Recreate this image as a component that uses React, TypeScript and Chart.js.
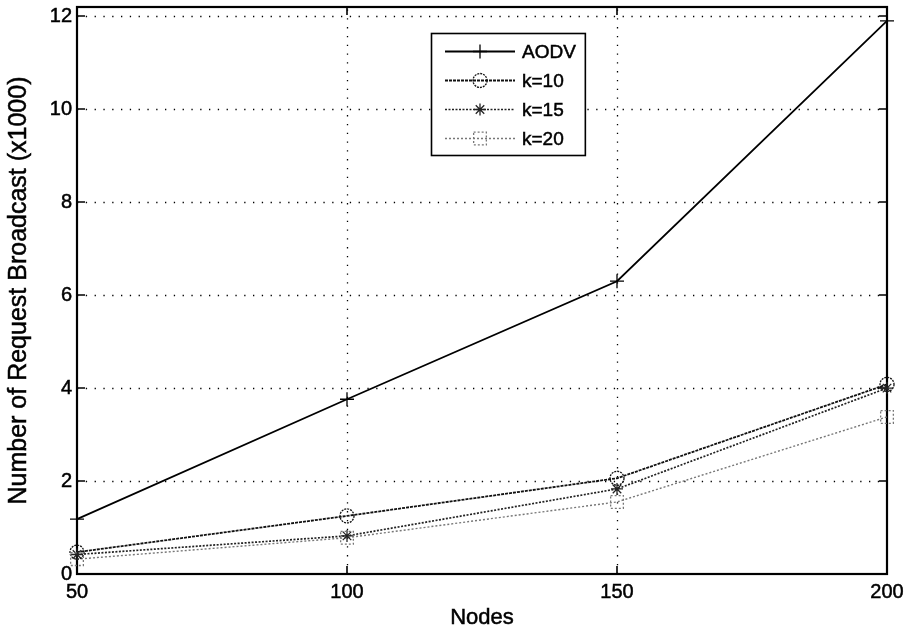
import React, { useEffect, useRef } from "react";
import { Chart, registerables } from "chart.js";

Chart.register(...registerables);

// Network size on the horizontal axis
const nodes = [50, 100, 150, 200];

// Route-request broadcasts, in thousands
const aodv = [1.18, 3.76, 6.3, 11.9];
const k10 = [0.47, 1.25, 2.06, 4.08];
const k15 = [0.42, 0.82, 1.83, 4.0];
const k20 = [0.32, 0.78, 1.55, 3.38];

const seriesLabels = ["AODV", "k=10", "k=15", "k=20"];

const xTicks = [50, 100, 150, 200];
const yTicks = [0, 2, 4, 6, 8, 10, 12];

const xTitle = "Nodes";
const yTitle = "Number of Request Broadcast (x1000)";

const FONT = "'Liberation Sans', Arial, Helvetica, sans-serif";

type Style = "cross" | "circle" | "star" | "rect";

function drawMarker(ctx: CanvasRenderingContext2D, kind: Style, x: number, y: number, r: number) {
  ctx.beginPath();
  if (kind === "cross") {
    ctx.moveTo(x - r, y);
    ctx.lineTo(x + r, y);
    ctx.moveTo(x, y - r);
    ctx.lineTo(x, y + r);
  } else if (kind === "circle") {
    ctx.arc(x, y, r, 0, Math.PI * 2);
  } else if (kind === "star") {
    ctx.moveTo(x - r, y);
    ctx.lineTo(x + r, y);
    ctx.moveTo(x, y - r);
    ctx.lineTo(x, y + r);
    const d = r * Math.SQRT1_2;
    ctx.moveTo(x - d, y - d);
    ctx.lineTo(x + d, y + d);
    ctx.moveTo(x - d, y + d);
    ctx.lineTo(x + d, y - d);
  } else {
    const s = r * Math.SQRT1_2;
    ctx.rect(x - s, y - s, 2 * s, 2 * s);
  }
  ctx.stroke();
}

// Text with a hairline outline so it reads a little heavier than the plain face
function heavyText(ctx: CanvasRenderingContext2D, text: string, x: number, y: number) {
  ctx.fillText(text, x, y);
  ctx.lineWidth = 0.5;
  ctx.strokeStyle = "#000";
  ctx.setLineDash([]);
  ctx.strokeText(text, x, y);
}

const axesDecor = {
  id: "axesDecor",
  beforeDatasetsDraw(chart: any) {
    const { ctx, chartArea: a, scales } = chart;
    const x = scales.x;
    const y = scales.y;
    ctx.save();
    // dotted grid
    ctx.strokeStyle = "#000";
    ctx.lineWidth = 1.3;
    ctx.setLineDash([1.3, 7.5]);
    for (const v of xTicks) {
      const px = Math.round(x.getPixelForValue(v)) + 0.5;
      if (px <= a.left + 2 || px >= a.right - 2) continue;
      ctx.beginPath();
      ctx.moveTo(px, a.bottom);
      ctx.lineTo(px, a.top);
      ctx.stroke();
    }
    for (const v of yTicks) {
      const py = Math.round(y.getPixelForValue(v)) + 0.5;
      if (py <= a.top + 2 || py >= a.bottom - 2) continue;
      ctx.beginPath();
      ctx.moveTo(a.left, py);
      ctx.lineTo(a.right, py);
      ctx.stroke();
    }
    ctx.setLineDash([]);
    // box frame
    ctx.lineWidth = 2.2;
    ctx.strokeRect(a.left, a.top, a.right - a.left, a.bottom - a.top);
    // inward tick marks on all four sides
    const tl = 8;
    ctx.lineWidth = 1.6;
    ctx.beginPath();
    for (const v of xTicks) {
      const px = Math.round(x.getPixelForValue(v));
      ctx.moveTo(px, a.bottom);
      ctx.lineTo(px, a.bottom - tl);
      ctx.moveTo(px, a.top);
      ctx.lineTo(px, a.top + tl);
    }
    for (const v of yTicks) {
      const py = Math.round(y.getPixelForValue(v));
      ctx.moveTo(a.left, py);
      ctx.lineTo(a.left + tl, py);
      ctx.moveTo(a.right, py);
      ctx.lineTo(a.right - tl, py);
    }
    ctx.stroke();
    ctx.restore();
  },
  afterDatasetsDraw(chart: any) {
    const { ctx } = chart;
    const sets = chart.data.datasets;
    ctx.save();
    ctx.font = `19px ${FONT}`;
    const left = 431;
    const top = 33;
    const rowH = 29;
    const firstRow = 51;
    const lineX0 = 445;
    const lineX1 = 515;
    const textX = 522;
    let maxW = 0;
    for (const s of sets) maxW = Math.max(maxW, ctx.measureText(s.label).width);
    const right = textX + maxW + 9;
    const bottom = firstRow + rowH * (sets.length - 1) + 17;
    ctx.fillStyle = "#fff";
    ctx.fillRect(left, top, right - left, bottom - top);
    ctx.strokeStyle = "#000";
    ctx.lineWidth = 1.6;
    ctx.strokeRect(left + 0.5, top + 0.5, right - left, bottom - top);
    sets.forEach((s: any, i: number) => {
      const yy = firstRow + rowH * i + 0.5;
      ctx.strokeStyle = s.borderColor;
      ctx.lineWidth = s.borderWidth;
      ctx.setLineDash(s.borderDash || []);
      ctx.beginPath();
      ctx.moveTo(lineX0, yy);
      ctx.lineTo(lineX1, yy);
      ctx.stroke();
      ctx.setLineDash(s.pointDash || []);
      ctx.strokeStyle = s.pointBorderColor;
      ctx.lineWidth = s.pointBorderWidth;
      drawMarker(ctx, s.markerKind, (lineX0 + lineX1) / 2, yy, s.markerSize);
      ctx.setLineDash([]);
      ctx.fillStyle = "#000";
      ctx.textAlign = "left";
      ctx.textBaseline = "middle";
      heavyText(ctx, s.label, textX, yy + 1);
    });
    ctx.restore();
  },
  afterDraw(chart: any) {
    const { ctx, chartArea: a } = chart;
    ctx.save();
    ctx.fillStyle = "#000";
    ctx.textAlign = "center";
    ctx.textBaseline = "middle";
    ctx.font = `22px ${FONT}`;
    heavyText(ctx, xTitle, (a.left + a.right) / 2, 618);
    ctx.translate(19, (a.top + a.bottom) / 2);
    ctx.rotate(-Math.PI / 2);
    ctx.font = `25px ${FONT}`;
    heavyText(ctx, yTitle, 0, 0);
    ctx.restore();
  },
};

// Markers are stroked by hand so that dotted markers keep their dash pattern
const markerPainter = {
  id: "markerPainter",
  afterDatasetsDraw(chart: any) {
    const { ctx } = chart;
    chart.data.datasets.forEach((s: any, i: number) => {
      const meta = chart.getDatasetMeta(i);
      ctx.save();
      ctx.strokeStyle = s.pointBorderColor;
      ctx.lineWidth = s.pointBorderWidth;
      ctx.setLineDash(s.pointDash || []);
      for (const el of meta.data) drawMarker(ctx, s.markerKind, el.x, el.y, s.markerSize);
      ctx.restore();
    });
  },
};

// Tick labels drawn with the same slightly heavier text as the titles
const tickLabels = {
  id: "tickLabels",
  afterDraw(chart: any) {
    const { ctx, chartArea: a, scales } = chart;
    ctx.save();
    ctx.fillStyle = "#000";
    ctx.font = `20px ${FONT}`;
    ctx.textAlign = "center";
    ctx.textBaseline = "top";
    for (const v of xTicks) heavyText(ctx, String(v), scales.x.getPixelForValue(v), a.bottom + 8);
    ctx.textAlign = "right";
    ctx.textBaseline = "middle";
    for (const v of yTicks) heavyText(ctx, String(v), a.left - 5, scales.y.getPixelForValue(v));
    ctx.restore();
  },
};

function toPoints(vals: number[]) {
  return nodes.map((n, i) => ({ x: n, y: vals[i] }));
}

export default function App() {
  const ref = useRef<HTMLCanvasElement | null>(null);

  useEffect(() => {
    if (!ref.current) return;
    const mk = (
      label: string,
      vals: number[],
      color: string,
      width: number,
      dash: number[],
      kind: Style,
      size: number,
      pointDash: number[]
    ) => ({
      label,
      data: toPoints(vals),
      borderColor: color,
      borderWidth: width,
      borderDash: dash,
      backgroundColor: "transparent",
      pointRadius: 0,
      pointHoverRadius: 0,
      pointBorderColor: color,
      pointBorderWidth: 1.3,
      markerKind: kind,
      markerSize: size,
      pointDash,
      tension: 0,
      clip: false,
    });

    const chart = new Chart(ref.current, {
      type: "line",
      data: {
        datasets: [
          mk(seriesLabels[0], aodv, "#000", 1.8, [], "cross", 7, []),
          mk(seriesLabels[1], k10, "#111", 1.8, [3, 1], "circle", 7, [2, 1]),
          mk(seriesLabels[2], k15, "#222", 1.7, [2, 1.5], "star", 6, []),
          mk(seriesLabels[3], k20, "#777", 1.4, [2, 2], "rect", 9, [2, 2]),
        ] as any,
      },
      options: {
        animation: false,
        responsive: false,
        devicePixelRatio: 1,
        layout: { padding: { top: 7, right: 23, left: 0, bottom: 0 } },
        plugins: {
          legend: { display: false },
          tooltip: { enabled: false },
        },
        scales: {
          x: {
            type: "linear",
            min: 50,
            max: 200,
            afterBuildTicks: (s: any) => {
              s.ticks = xTicks.map((v) => ({ value: v }));
            },
            afterFit: (s: any) => {
              s.height = 59;
              s.paddingLeft = 0;
              s.paddingRight = 0;
            },
            grid: { display: false, drawTicks: false },
            border: { display: false },
            ticks: { display: false },
          },
          y: {
            type: "linear",
            min: 0,
            max: 12.2,
            afterBuildTicks: (s: any) => {
              s.ticks = yTicks.map((v) => ({ value: v }));
            },
            afterFit: (s: any) => {
              s.width = 77;
              s.paddingTop = 0;
              s.paddingBottom = 0;
            },
            grid: { display: false, drawTicks: false },
            border: { display: false },
            ticks: { display: false },
          },
        },
      },
      plugins: [axesDecor, markerPainter, tickLabels],
    });
    return () => chart.destroy();
  }, []);

  return (
    <div style={{ position: "fixed", left: 0, top: 0, width: 910, height: 633, background: "#fff" }}>
      <canvas ref={ref} width={910} height={633} />
    </div>
  );
}
